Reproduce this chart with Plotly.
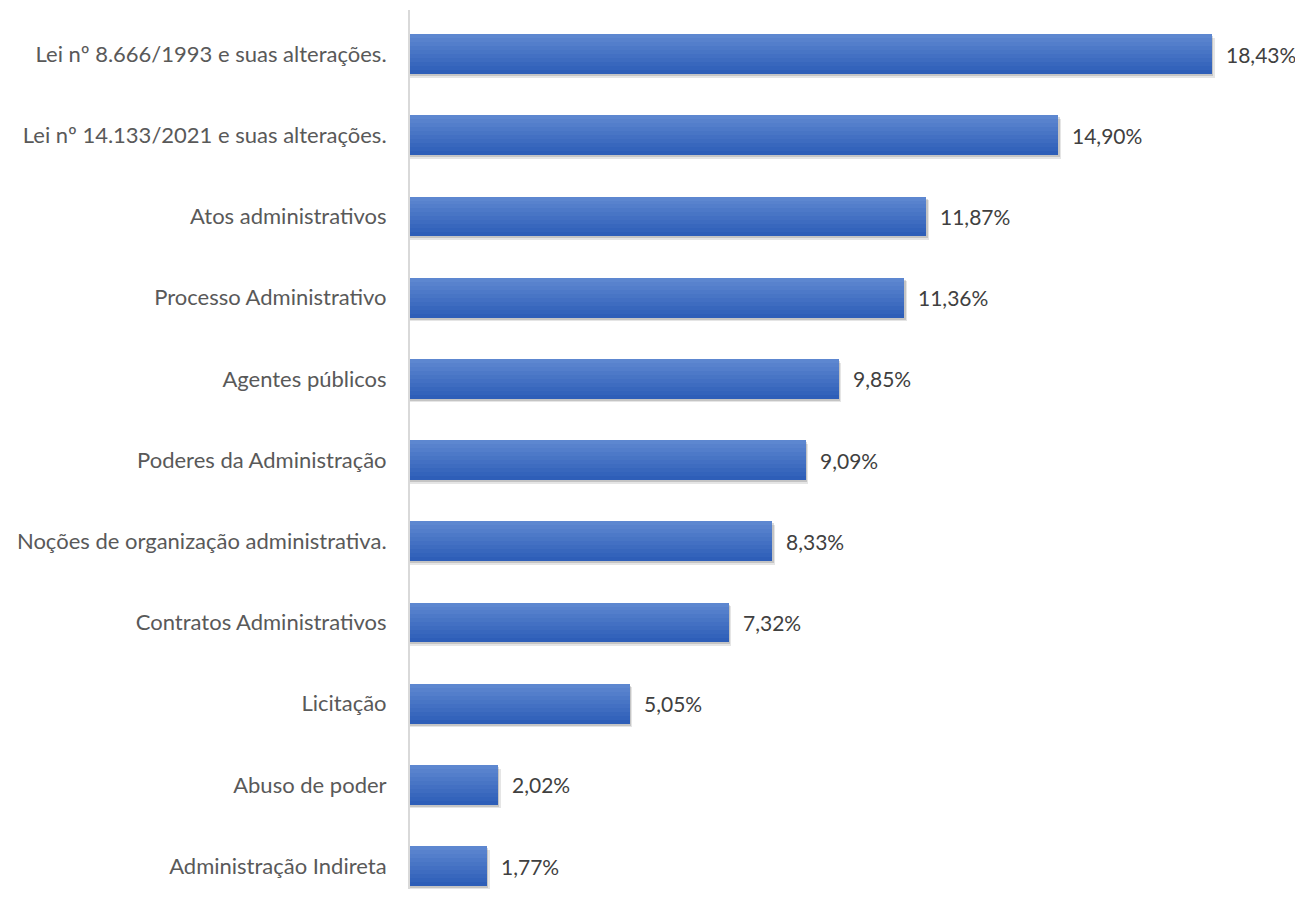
import plotly.graph_objects as go

categories = [
    "Lei nº 8.666/1993 e suas alterações.",
    "Lei nº 14.133/2021 e suas alterações.",
    "Atos administrativos",
    "Processo Administrativo",
    "Agentes públicos",
    "Poderes da Administração",
    "Noções de organização administrativa.",
    "Contratos Administrativos",
    "Licitação",
    "Abuso de poder",
    "Administração Indireta",
]
values = [18.43, 14.90, 11.87, 11.36, 9.85, 9.09, 8.33, 7.32, 5.05, 2.02, 1.77]
value_labels = [f"{v:.2f}".replace(".", ",") + "%" for v in values]

BAR_W = 0.49
N_BANDS = 10
top_rgb = (93, 135, 208)
bot_rgb = (46, 94, 184)
FONT = "Lato, Open Sans, sans-serif"

fig = go.Figure()

# soft shadow
for dx, dy, a in [(0.06, 0.045, 0.10), (0.03, 0.025, 0.14)]:
    fig.add_trace(go.Bar(
        x=[v + dx for v in values], y=categories, orientation="h",
        width=BAR_W, offset=-BAR_W / 2 + dy,
        marker=dict(color=f"rgba(0,0,0,{a})", line=dict(width=0)),
        hoverinfo="skip", showlegend=False,
    ))

h = BAR_W / N_BANDS
for k in range(N_BANDS):
    t = k / (N_BANDS - 1)
    c = tuple(round(top_rgb[j] + (bot_rgb[j] - top_rgb[j]) * t) for j in range(3))
    fig.add_trace(go.Bar(
        x=values, y=categories, orientation="h",
        width=h + 0.002, offset=-BAR_W / 2 + k * h,
        marker=dict(color=f"rgb{c}", line=dict(width=0)),
        hoverinfo="skip", showlegend=False,
    ))

for v, cat, lab in zip(values, categories, value_labels):
    fig.add_annotation(
        x=v, y=cat, text=lab, showarrow=False,
        xanchor="left", yanchor="middle", xshift=12,
        font=dict(family=FONT, size=21, color="#404040"),
    )

fig.update_layout(
    width=1287, height=881,
    margin=dict(l=402, r=0, t=2, b=0),
    paper_bgcolor="white", plot_bgcolor="white",
    barmode="overlay",
    bargap=0,
    font=dict(family=FONT, size=22, color="#595959"),
    xaxis=dict(range=[0, 20.34], visible=False, fixedrange=True),
    yaxis=dict(
        categoryorder="array", categoryarray=categories,
        range=[10.283, -0.542],
        showline=True, linecolor="#d9d9d9", linewidth=2,
        showgrid=False, zeroline=False, ticks="",
        ticklabelstandoff=17,
        tickfont=dict(family=FONT, size=22, color="#595959"),
    ),
)

fig.write_html("out.html")
